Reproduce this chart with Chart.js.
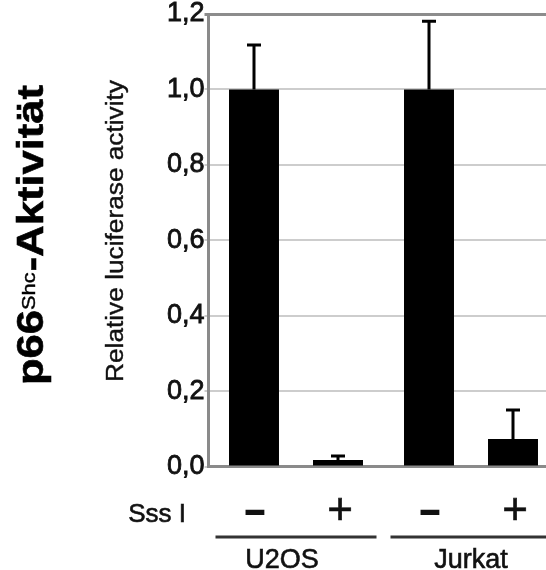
<!DOCTYPE html>
<html>
<head>
<meta charset="utf-8">
<script src="https://cdn.jsdelivr.net/npm/chart.js@4.4.1/dist/chart.umd.min.js"></script>
<style>
  html, body { margin: 0; padding: 0; background: #fff; overflow: hidden; }
  #wrap { width: 565px; height: 570px; }
</style>
</head>
<body>
<div id="wrap"><canvas id="chart" width="565" height="570"></canvas></div>
<script>
// cell lines, Sss I treatment, relative luciferase activity
const groups = ['U2OS', 'Jurkat'];
const treatments = ['-', '+'];
const withoutSssI = [1.0, 1.0];
const withSssI = [0.017, 0.073];
const errWithout = [0.118, 0.181];
const errWith = [0.011, 0.077];
const yTickLabels = ['0,0', '0,2', '0,4', '0,6', '0,8', '1,0', '1,2'];

const FONT = '"Liberation Sans", Arial, Helvetica, sans-serif';
const Y_MAX = 1.2;

// fill + thin stroke, the scanned text is a bit heavy
function heavyText(ctx, s, x, y, w) {
    ctx.lineWidth = w;
    ctx.fillText(s, x, y);
    ctx.strokeText(s, x, y);
}

const annotations = {
    id: 'annotations',
    afterDatasetsDraw(chart) {
        const ctx = chart.ctx;
        const y = chart.scales.y;
        const x = chart.scales.x;
        const errs = [errWithout, errWith];

        // error bars, upper side only
        ctx.save();
        ctx.strokeStyle = '#000';
        ctx.lineWidth = 3;
        chart.data.datasets.forEach((ds, i) => {
            chart.getDatasetMeta(i).data.forEach((bar, j) => {
                const top = y.getPixelForValue(ds.data[j] + errs[i][j]);
                ctx.beginPath();
                ctx.moveTo(bar.x, bar.y);
                ctx.lineTo(bar.x, top);
                ctx.moveTo(bar.x - 7, top);
                ctx.lineTo(bar.x + 7, top);
                ctx.stroke();
            });
        });
        ctx.restore();

        // treatment marks under bars
        ctx.save();
        ctx.fillStyle = '#111';
        ctx.strokeStyle = '#111';
        ctx.textAlign = 'center';
        ctx.textBaseline = 'middle';
        chart.data.datasets.forEach((ds, i) => {
            chart.getDatasetMeta(i).data.forEach(bar => {
                if (treatments[i] === '-') {
                    ctx.font = 'bold 34px ' + FONT;
                    heavyText(ctx, '\u2013', bar.x + 1, 512, 2);
                } else {
                    ctx.font = '44px ' + FONT;
                    heavyText(ctx, '+', bar.x + 2, 512, 0.6);
                }
            });
        });

        ctx.font = '26px ' + FONT;
        ctx.textAlign = 'right';
        heavyText(ctx, 'Sss I', 186, 515, 0.6);

        // group lines and names
        const half = (x.getPixelForValue(1) - x.getPixelForValue(0)) * 0.46;
        const shift = [-14, 0];
        ctx.strokeStyle = '#333';
        ctx.textAlign = 'center';
        ctx.textBaseline = 'alphabetic';
        groups.forEach((g, i) => {
            const cx = x.getPixelForValue(i);
            ctx.lineWidth = 3;
            ctx.beginPath();
            ctx.moveTo(cx - half, 537);
            ctx.lineTo(cx + half, 537);
            ctx.stroke();
            ctx.font = '27px ' + FONT;
            ctx.strokeStyle = '#111';
            heavyText(ctx, g, cx + shift[i], 568, 0.6);
            ctx.strokeStyle = '#333';
        });
        ctx.restore();

        // axis title, stretched along the text
        ctx.save();
        ctx.fillStyle = '#111';
        ctx.strokeStyle = '#111';
        ctx.font = '23px ' + FONT;
        const t = 'Relative luciferase activity';
        const tw = ctx.measureText(t).width;
        ctx.translate(123, 231);
        ctx.rotate(-Math.PI / 2);
        ctx.scale(302 / tw, 1);
        ctx.textAlign = 'center';
        heavyText(ctx, t, 0, 0, 0.4);
        ctx.restore();

        // big title p66Shc-Aktivität
        ctx.save();
        ctx.fillStyle = '#000';
        ctx.strokeStyle = '#000';
        const bigFont = 'bold 36px ' + FONT;
        const supFont = '18px ' + FONT;
        ctx.font = bigFont;
        const w1 = ctx.measureText('p66').width;
        const w3 = ctx.measureText('-Aktivit\u00e4t').width;
        ctx.font = supFont;
        const w2 = ctx.measureText('Shc').width + 1;
        const total = w1 + w2 + w3;
        ctx.translate(43, 235);
        ctx.rotate(-Math.PI / 2);
        ctx.scale(300 / total, 1);
        let px = -total / 2;
        ctx.textAlign = 'left';
        ctx.font = bigFont;
        heavyText(ctx, 'p66', px, 0, 0.6);
        px += w1;
        ctx.font = supFont;
        heavyText(ctx, 'Shc', px, -8, 0.4);
        px += w2;
        ctx.font = bigFont;
        heavyText(ctx, '-Aktivit\u00e4t', px, 0, 0.6);
        ctx.restore();
    }
};

new Chart(document.getElementById('chart'), {
    type: 'bar',
    data: {
        labels: groups,
        datasets: [{
            label: 'Sss I -',
            data: withoutSssI,
            backgroundColor: '#000',
            categoryPercentage: 0.96,
            barPercentage: 0.595
        }, {
            label: 'Sss I +',
            data: withSssI,
            backgroundColor: '#000',
            categoryPercentage: 0.96,
            barPercentage: 0.595
        }]
    },
    options: {
        responsive: false,
        animation: false,
        devicePixelRatio: 1,
        layout: { padding: { top: 14, left: 0, right: 6.5, bottom: 0 } },
        plugins: {
            legend: { display: false },
            tooltip: { enabled: false }
        },
        scales: {
            x: {
                grid: { display: false },
                ticks: { display: false },
                border: { display: true, color: '#8a8a8a', width: 3 },
                afterFit(scale) { scale.height = 103.5; }
            },
            y: {
                min: 0,
                max: Y_MAX,
                ticks: {
                    stepSize: 0.2,
                    padding: 0,
                    color: '#111',
                    textStrokeColor: '#111',
                    textStrokeWidth: 0.8,
                    font: { family: FONT, size: 27, lineHeight: 1 },
                    callback: (v, i) => yTickLabels[i]
                },
                grid: {
                    tickLength: 4,
                    color: c => (c.tick && Math.abs(c.tick.value - Y_MAX) < 1e-6) ? '#8c8c8c' : '#cdcdcd',
                    lineWidth: c => (c.tick && Math.abs(c.tick.value - Y_MAX) < 1e-6) ? 3 : 2
                },
                border: { display: true, color: '#8a8a8a', width: 3 },
                afterFit(scale) { scale.width = 208.5; }
            }
        }
    },
    plugins: [annotations]
});
</script>
</body>
</html>
